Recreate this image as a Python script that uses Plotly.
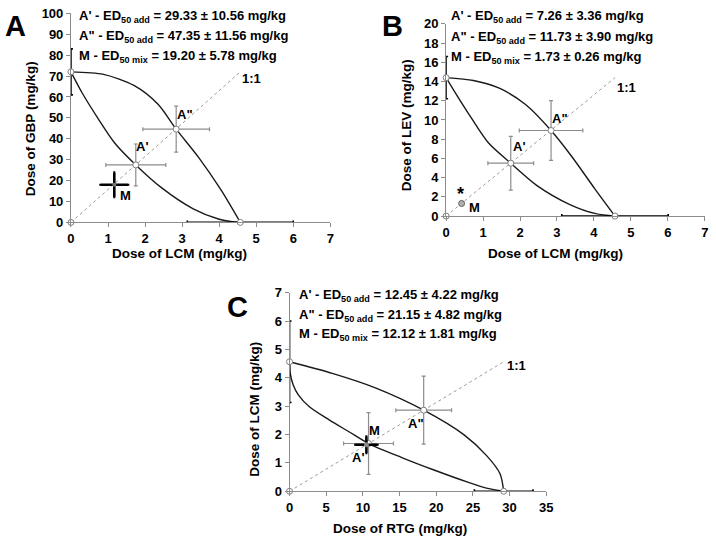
import plotly.graph_objects as go

W, H = 716, 544
FONT = "Arial, 'Liberation Sans', sans-serif"

# ---------------- Panel A : LCM (x) + GBP (y) ----------------
A_ed50_x, A_ed50_x_err = 4.57, 1.43
A_ed50_y, A_ed50_y_err = 72.0, 11.0
A_lower_x = [0, 0.30, 0.72, 1.18, 1.75, 2.45, 3.30, 4.0, 4.35, 4.57]
A_lower_y = [72, 62.0, 50.0, 38.0, 27.5, 16.5, 6.5, 1.5, 0.3, 0]
A_upper_x = [0, 0.88, 1.70, 2.35, 2.84, 3.45, 4.05, 4.57]
A_upper_y = [72, 70.8, 65.5, 56.5, 44.6, 31.0, 15.5, 0]
A_add_x = [1.75, 2.84]          # A', A''
A_add_y = [27.5, 44.6]
A_add_xerr = [0.81, 0.90]
A_add_yerr = [10.0, 11.0]
A_mix_x, A_mix_y = [1.17], [18.0]
A_mix_xerr, A_mix_yerr = [0.37], [5.8]
A_xticks = list(range(0, 8))
A_yticks = list(range(0, 101, 10))
A_info = ["A' - ED<sub>50 add</sub> = 29.33 ± 10.56 mg/kg",
          "A\" - ED<sub>50 add</sub> = 47.35 ± 11.56 mg/kg",
          "M - ED<sub>50 mix</sub> = 19.20 ± 5.78 mg/kg"]

# ---------------- Panel B : LCM (x) + LEV (y) ----------------
B_ed50_x, B_ed50_x_err = 4.57, 1.44
B_ed50_y, B_ed50_y_err = 14.4, 2.2
B_lower_x = [0, 0.3, 0.7, 1.15, 1.75, 2.45, 3.35, 4.05, 4.57]
B_lower_y = [14.4, 12.5, 10.1, 7.6, 5.5, 3.2, 1.2, 0.25, 0]
B_upper_x = [0, 0.74, 1.44, 2.15, 2.84, 3.40, 4.02, 4.57]
B_upper_y = [14.4, 14.1, 13.3, 11.6, 8.9, 6.2, 2.86, 0]
B_add_x = [1.75, 2.84]
B_add_y = [5.5, 8.9]
B_add_xerr = [0.62, 0.86]
B_add_yerr = [2.8, 3.1]
B_mix_x, B_mix_y = [0.42], [1.31]
B_xticks = list(range(0, 8))
B_yticks = list(range(0, 21, 2))
B_info = ["A' - ED<sub>50 add</sub> = 7.26 ± 3.36 mg/kg",
          "A\" - ED<sub>50 add</sub> = 11.73 ± 3.90 mg/kg",
          "M - ED<sub>50 mix</sub> = 1.73 ± 0.26 mg/kg"]

# ---------------- Panel C : RTG (x) + LCM (y) ----------------
C_ed50_x, C_ed50_x_err = 29.2, 4.0
C_ed50_y, C_ed50_y_err = 4.57, 1.44
C_lower_x = [0, 0.1, 0.5, 1.2, 2.7, 5.4, 8.1, 10.77, 15.3, 19.7, 24.2, 27.0, 29.2]
C_lower_y = [4.57, 4.15, 3.75, 3.4, 2.98, 2.52, 2.1, 1.685, 1.19, 0.75, 0.33, 0.1, 0]
C_upper_x = [0, 5.83, 11.7, 18.29, 23.8, 26.9, 28.7, 29.2]
C_upper_y = [4.57, 4.16, 3.65, 2.862, 1.99, 1.25, 0.62, 0]
C_add_x = [10.77, 18.29]
C_add_y = [1.685, 2.862]
C_add_xerr = [3.4, 3.8]
C_add_yerr = [1.09, 1.2]
C_mix_x, C_mix_y = [10.48], [1.64]
C_mix_xerr, C_mix_yerr = [1.5], [0.29]
C_xticks = list(range(0, 36, 5))
C_yticks = list(range(0, 8))
C_info = ["A' - ED<sub>50 add</sub> = 12.45 ± 4.22 mg/kg",
          "A\" - ED<sub>50 add</sub> = 21.15 ± 4.82 mg/kg",
          "M - ED<sub>50 mix</sub> = 12.12 ± 1.81 mg/kg"]

fig = go.Figure()

GRAY = "#8c8c8c"
PT = dict(symbol="circle", size=6, color="white", line=dict(color="#7f7f7f", width=1))


def panel(xa, ya, ed_x, ed_xe, ed_y, ed_ye, lx, ly, ux, uy, ax_, ay_, axe, aye):
    xr, yr = "x" + xa, "y" + ya
    # isoboles
    for cx, cy in ((lx, ly), (ux, uy)):
        fig.add_trace(go.Scatter(x=cx, y=cy, mode="lines", xaxis=xr, yaxis=yr,
                                 line=dict(color="#1a1a1a", width=1.4, shape="spline", smoothing=0.8),
                                 hoverinfo="skip", showlegend=False, cliponaxis=False))
    # 1:1 line
    fig.add_trace(go.Scatter(x=[0, ed_x], y=[0, ed_y], mode="lines", xaxis=xr, yaxis=yr,
                             line=dict(color="#9a9a9a", width=1, dash="dot"),
                             showlegend=False, cliponaxis=False))
    # ED50 of single drugs with SEM on axes
    fig.add_trace(go.Scatter(x=[ed_x], y=[0], mode="markers", xaxis=xr, yaxis=yr,
                             error_x=dict(type="data", array=[ed_xe], color="black", thickness=1.6, width=2),
                             marker=PT, showlegend=False, cliponaxis=False))
    fig.add_trace(go.Scatter(x=[0], y=[ed_y], mode="markers", xaxis=xr, yaxis=yr,
                             error_y=dict(type="data", array=[ed_ye], color="black", thickness=1.6, width=2),
                             marker=PT, showlegend=False, cliponaxis=False))
    fig.add_trace(go.Scatter(x=[0], y=[0], mode="markers", xaxis=xr, yaxis=yr,
                             marker=PT, showlegend=False, cliponaxis=False))
    # additive points A', A''
    fig.add_trace(go.Scatter(x=ax_, y=ay_, mode="markers", xaxis=xr, yaxis=yr,
                             error_x=dict(type="data", array=axe, color=GRAY, thickness=1.2, width=2),
                             error_y=dict(type="data", array=aye, color=GRAY, thickness=1.2, width=2),
                             marker=PT, showlegend=False, cliponaxis=False))


panel("", "", A_ed50_x, A_ed50_x_err, A_ed50_y, A_ed50_y_err, A_lower_x, A_lower_y,
      A_upper_x, A_upper_y, A_add_x, A_add_y, A_add_xerr, A_add_yerr)
panel("2", "2", B_ed50_x, B_ed50_x_err, B_ed50_y, B_ed50_y_err, B_lower_x, B_lower_y,
      B_upper_x, B_upper_y, B_add_x, B_add_y, B_add_xerr, B_add_yerr)
panel("3", "3", C_ed50_x, C_ed50_x_err, C_ed50_y, C_ed50_y_err, C_lower_x, C_lower_y,
      C_upper_x, C_upper_y, C_add_x, C_add_y, C_add_xerr, C_add_yerr)

# mixture points
fig.add_trace(go.Scatter(x=A_mix_x, y=A_mix_y, mode="markers", xaxis="x", yaxis="y",
                         error_x=dict(type="data", array=A_mix_xerr, color="black", thickness=2.6, width=1),
                         error_y=dict(type="data", array=A_mix_yerr, color="black", thickness=2.6, width=1),
                         marker=dict(size=4, color="#777777"), showlegend=False, cliponaxis=False))
fig.add_trace(go.Scatter(x=B_mix_x, y=B_mix_y, mode="markers", xaxis="x2", yaxis="y2",
                         marker=dict(size=6, color="#b0b0b0", line=dict(color="#606060", width=1)),
                         showlegend=False, cliponaxis=False))
fig.add_trace(go.Scatter(x=C_mix_x, y=C_mix_y, mode="markers", xaxis="x3", yaxis="y3",
                         error_x=dict(type="data", array=C_mix_xerr, color="black", thickness=2.6, width=1),
                         error_y=dict(type="data", array=C_mix_yerr, color="black", thickness=2.6, width=1),
                         marker=dict(size=5, color="#888888"), showlegend=False, cliponaxis=False))


def px_x(p):
    return p / W


def px_y(p):
    return 1 - p / H


def axis(dom, rng, ticks):
    return dict(domain=dom, range=rng, tickvals=ticks, ticks="outside", ticklen=4,
                tickcolor=GRAY, showline=True, linecolor=GRAY, linewidth=1,
                showgrid=False, zeroline=False, fixedrange=True,
                tickfont=dict(family=FONT, size=13, color="black", weight="bold"))


fig.update_layout(
    width=W, height=H, margin=dict(l=0, r=0, t=0, b=0),
    paper_bgcolor="white", plot_bgcolor="white", showlegend=False,
    xaxis=axis([px_x(68), px_x(331.4)], [0, 7], A_xticks),
    yaxis=dict(axis([px_y(221.5), px_y(6.5)], [0, 100], A_yticks), anchor="x"),
    xaxis2=dict(axis([px_x(449), px_x(711.7)], [0, 7], B_xticks), anchor="y2"),
    yaxis2=dict(axis([px_y(215), px_y(17.3)], [0, 20], B_yticks), anchor="x2"),
    xaxis3=dict(axis([px_x(290), px_x(550.7)], [0, 35], C_xticks), anchor="y3"),
    yaxis3=dict(axis([px_y(498), px_y(294)], [0, 7], C_yticks), anchor="x3"),
)
fig.layout.xaxis.anchor = "y"

ann = []
BOLD = dict(family=FONT, color="black", weight="bold")


def txt(x, y, s, size, xref="paper", yref="paper", xanchor="center", angle=0):
    ann.append(dict(x=x, y=y, xref=xref, yref=yref, text=s, showarrow=False,
                    xanchor=xanchor, yanchor="middle", textangle=angle,
                    font=dict(BOLD, size=size)))


# panel letters
txt(px_x(12), px_y(20), "A", 29)
txt(px_x(395), px_y(20), "B", 29)
txt(px_x(237), px_y(309), "C", 29)

# info texts
for i, s in enumerate(A_info):
    txt(px_x(74), px_y(10 + 20.5 * i), s, 13, xanchor="left")
for i, s in enumerate(B_info):
    txt(px_x(452), px_y(10 + 21 * i), s, 13, xanchor="left")
for i, s in enumerate(C_info):
    txt(px_x(298), px_y(297 + 20 * i), s, 13, xanchor="left")

# axis titles
txt(px_x(27), px_y(125), "Dose of GBP (mg/kg)", 13.5, angle=-90)
txt(px_x(178), px_y(254), "Dose of LCM (mg/kg)", 13.5)
txt(px_x(409), px_y(122), "Dose of LEV (mg/kg)", 13.5, angle=-90)
txt(px_x(560), px_y(254), "Dose of LCM (mg/kg)", 13.5)
txt(px_x(254), px_y(414), "Dose of LCM (mg/kg)", 13.5, angle=-90)
txt(px_x(402), px_y(536), "Dose of RTG (mg/kg)", 13.5)

# point labels (data coords)
txt(1.91, 36.4, "A'", 13, "x", "y")
txt(3.07, 51.5, "A\"", 13, "x", "y")
txt(1.47, 13.1, "M", 13, "x", "y")
txt(4.88, 68.9, "1:1", 13, "x", "y")

txt(1.98, 7.24, "A'", 13, "x2", "y2")
txt(3.07, 10.1, "A\"", 13, "x2", "y2")
txt(0.40, 2.3, "*", 18, "x2", "y2")
txt(0.78, 0.9, "M", 13, "x2", "y2")
txt(4.87, 13.4, "1:1", 13, "x2", "y2")

txt(9.4, 1.19, "A'", 13, "x3", "y3")
txt(17.2, 2.39, "A\"", 13, "x3", "y3")
txt(11.6, 2.16, "M", 13, "x3", "y3")
txt(30.9, 4.45, "1:1", 13, "x3", "y3")

fig.update_layout(annotations=ann)
fig.write_html("out.html", config={"displayModeBar": False, "staticPlot": True},
               post_script="document.body.style.margin='0';document.body.style.overflow='hidden';")
